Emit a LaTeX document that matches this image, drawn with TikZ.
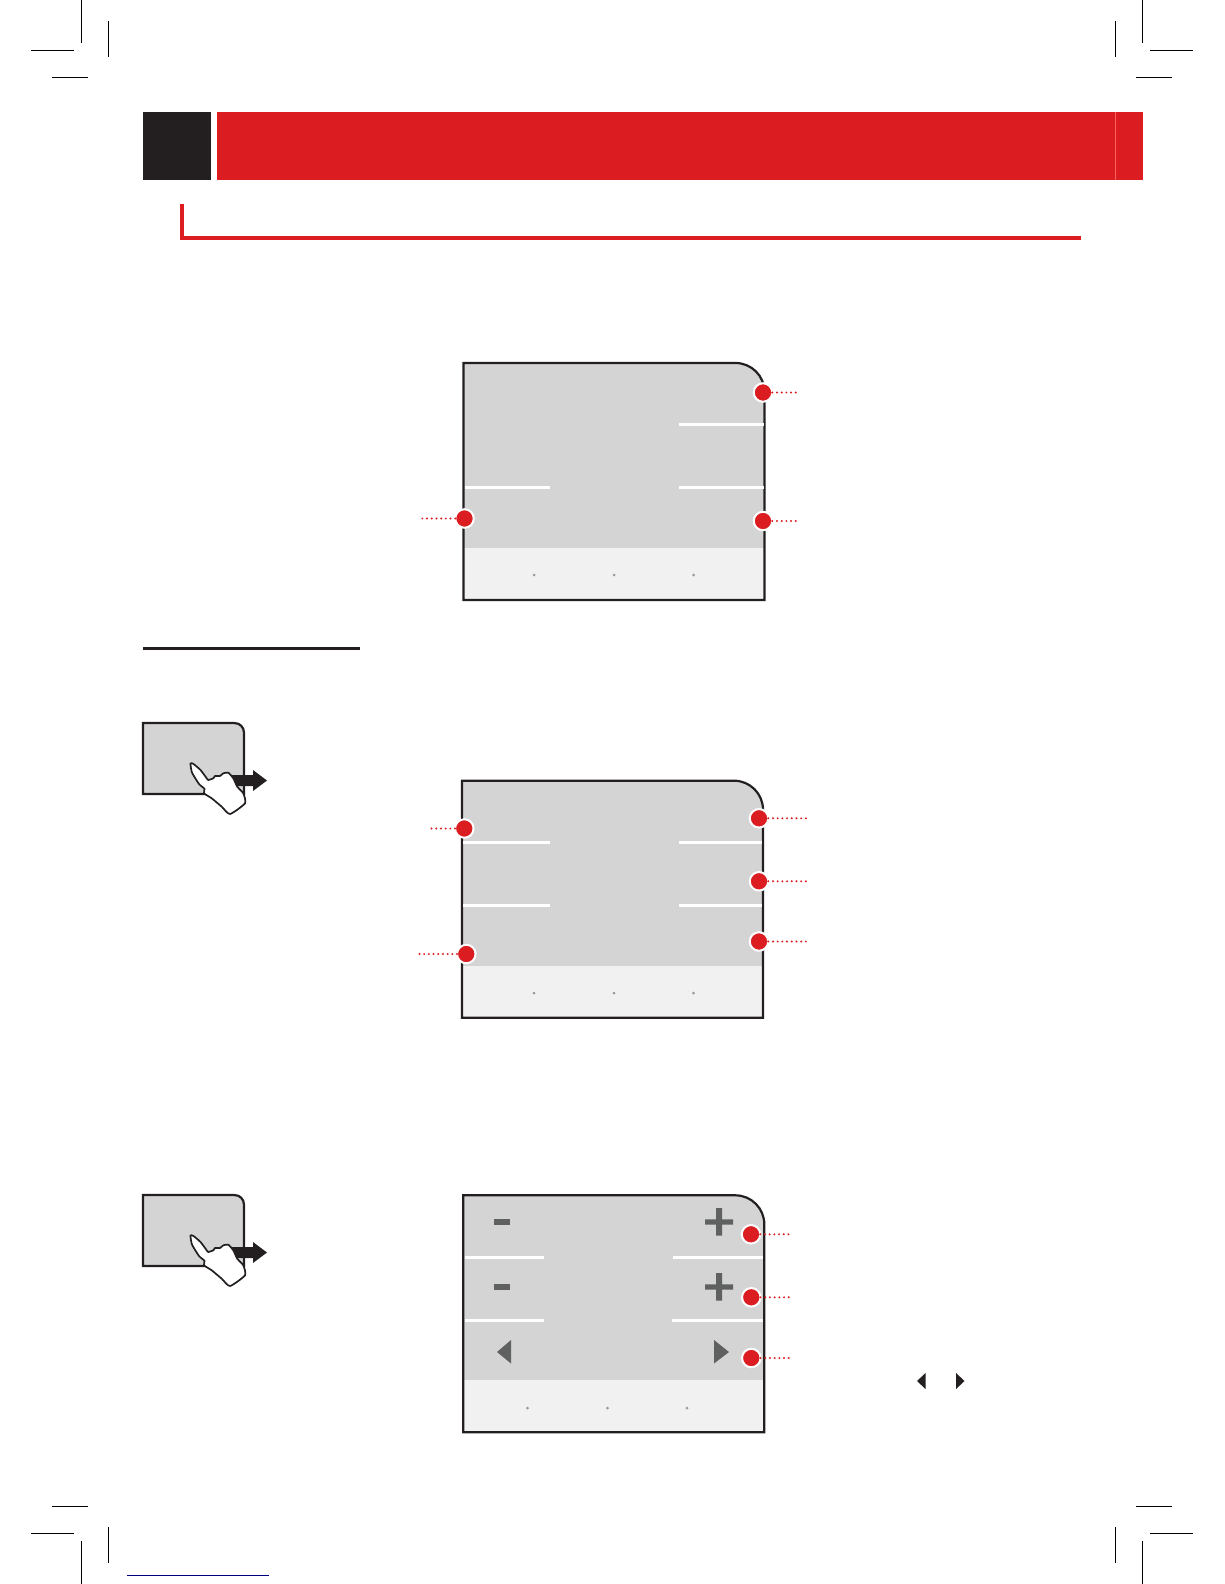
\documentclass[tikz,border=0pt]{standalone}
\definecolor{brandred}{HTML}{DB1C20}
\definecolor{inkblack}{HTML}{231F20}
\definecolor{screengrey}{HTML}{D4D4D4}
\definecolor{softgrey}{HTML}{F1F1F1}
\definecolor{symbolgrey}{HTML}{5F6060}
\tikzset{
  cropmark/.style={line width=0.9pt, black},
  bullet/.style={circle, fill=brandred, draw=white, line width=2pt, inner sep=0, outer sep=0, minimum size=18.5pt},
  callout/.style={brandred, line width=2.2pt, line cap=round, dash pattern=on 0pt off 4.7pt},
  divider/.style={white, line width=3pt},
  softdot/.style={circle, fill=black!40, inner sep=0, outer sep=0, minimum size=3pt},
  symbol/.style={fill=symbolgrey, draw=none},
  panelbody/.pic={
    \fill[screengrey] (0,0) -- (272,0) .. controls (288,0) and (301,13) .. (301,29) -- (301,237) -- (0,237) -- cycle;
    \fill[softgrey] (0,185) rectangle (301,237);
    \draw[inkblack, line width=2.2pt] (0,0) -- (272,0) .. controls (288,0) and (301,13) .. (301,29) -- (301,237) -- (0,237) -- cycle;
  },
  swipepanel/.pic={
    \fill[screengrey] (0,0) -- (91,0) .. controls (97,0) and (101,4) .. (101,10) -- (101,71) -- (0,71) -- cycle;
    \draw[inkblack, line width=2.2pt] (0,0) -- (91,0) .. controls (97,0) and (101,4) .. (101,10) -- (101,71) -- (0,71) -- cycle;
    \fill[inkblack] (88,52) -- (110,52) -- (110,47) -- (124,57.5) -- (110,68) -- (110,63) -- (88,63) -- cycle;
    \draw[fill=white, draw=inkblack, line width=1.7pt] plot[smooth cycle, tension=0.35] coordinates {(47.5,40.5) (50.5,41) (57.5,47) (63.5,55) (65.3,57) (70.3,55.3) (72,53) (77,53) (80.3,50.3) (85.3,49.7) (90.3,55.3) (94.3,63.7) (100.3,70.3) (102,80.3) (87,91) (78.7,83.7) (68.7,75.3) (61,70.3) (61.5,65.8) (56,61) (49,49.5)};
  }
}
\begin{document}
\begin{tikzpicture}[x=1pt, y=-1pt]
        \useasboundingbox (0,0) rectangle (1224,1584);

        \draw[cropmark] (81.5,0) -- (81.5,43) (31,50.5) -- (74,50.5) (108.5,21) -- (108.5,57) (52,77.5) -- (88,77.5);

        \draw[cropmark] (1142.5,0) -- (1142.5,43) (1150,50.5) -- (1193,50.5) (1115.5,21) -- (1115.5,57) (1136,77.5) -- (1172,77.5);

        \draw[cropmark] (81.5,1541) -- (81.5,1584) (31,1533) -- (74,1533) (108.5,1527) -- (108.5,1563) (52,1506.5) -- (88,1506.5);

        \draw[cropmark] (1142.5,1541) -- (1142.5,1584) (1150,1533) -- (1193,1533) (1115.5,1527) -- (1115.5,1563) (1136,1506.5) -- (1172,1506.5);

        \draw[blue!50!black, line width=1pt] (127,1575.3) -- (269,1575.3);

        \draw (143,112) node[anchor=north west, outer sep=0, inner sep=0, fill=inkblack, minimum width=68pt, minimum height=68pt] (chapter-box) {};

        \draw (chapter-box.north east) node[anchor=north west, xshift=6pt, outer sep=0, inner sep=0, fill=brandred, minimum width=926pt, minimum height=68pt] (chapter-band) {};

        \draw[red!60!white!90!brandred, line width=0.7pt] (1115.3,112) -- (1115.3,180);

        \draw[brandred, line width=4pt] (182,204) -- (182,238) -- (1081,238);

        \draw[inkblack, line width=3pt] (143,648) -- (360,648);

        \pic at (143,723) {swipepanel};

        \pic at (143,1195) {swipepanel};

        \pic at (463.5,363) {panelbody};

        \draw[divider] (679,424.5) -- (763.5,424.5);

        \draw[divider] (464.5,487) -- (550,487);

        \draw[divider] (679,487) -- (763.5,487);

        \draw (534,575) node[softdot] (first-dot-a) {};

        \draw (first-dot-a.center) node[softdot, xshift=80pt] (first-dot-b) {};

        \draw (first-dot-b.center) node[softdot, xshift=79.5pt] (first-dot-c) {};

        \draw (763,392.5) node[bullet] (first-top) {};

        \coordinate (first-top-end) at (798,392.5);

        \draw[callout] (first-top) -- (first-top-end);

        \draw (464.5,518.5) node[bullet] (first-left) {};

        \coordinate (first-left-end) at (421,518.5);

        \draw[callout] (first-left) -- (first-left-end);

        \draw (763,521) node[bullet] (first-right) {};

        \coordinate (first-right-end) at (798,521);

        \draw[callout] (first-right) -- (first-right-end);

        \pic at (462,780.7) {panelbody};

        \draw[divider] (463,842.3) -- (550,842.3);

        \draw[divider] (679,842.3) -- (762,842.3);

        \draw[divider] (463,905.7) -- (550,905.7);

        \draw[divider] (679,905.7) -- (762,905.7);

        \draw (534,993) node[softdot] (second-dot-a) {};

        \draw (second-dot-a.center) node[softdot, xshift=80pt] (second-dot-b) {};

        \draw (second-dot-b.center) node[softdot, xshift=79.5pt] (second-dot-c) {};

        \draw (464.3,828.5) node[bullet] (second-left-a) {};

        \coordinate (second-left-a-end) at (428,828.5);

        \draw[callout] (second-left-a) -- (second-left-a-end);

        \draw (466.3,954) node[bullet] (second-left-b) {};

        \coordinate (second-left-b-end) at (419,954);

        \draw[callout] (second-left-b) -- (second-left-b-end);

        \draw (759,818.3) node[bullet] (second-right-a) {};

        \coordinate (second-right-a-end) at (807,818.3);

        \draw[callout] (second-right-a) -- (second-right-a-end);

        \draw (759,881.3) node[bullet] (second-right-b) {};

        \coordinate (second-right-b-end) at (807,881.3);

        \draw[callout] (second-right-b) -- (second-right-b-end);

        \draw (759,941.5) node[bullet] (second-right-c) {};

        \coordinate (second-right-c-end) at (807,941.5);

        \draw[callout] (second-right-c) -- (second-right-c-end);

        \pic at (463.3,1195.3) {panelbody};

        \draw[divider] (464.5,1257.3) -- (544,1257.3);

        \draw[divider] (673,1257.3) -- (763,1257.3);

        \draw[divider] (464.5,1320.3) -- (544,1320.3);

        \draw[divider] (672,1320.3) -- (763,1320.3);

        \draw (527.5,1408) node[softdot] (third-dot-a) {};

        \draw (third-dot-a.center) node[softdot, xshift=80pt] (third-dot-b) {};

        \draw (third-dot-b.center) node[softdot, xshift=79.5pt] (third-dot-c) {};

        \fill[symbol] (494,1218.8) rectangle (510,1225.2);

        \fill[symbol] (494,1284.2) rectangle (510,1290.2);

        \fill[symbol] (705,1219.3) rectangle (733,1224.7) (716,1208) rectangle (722,1235.5);

        \fill[symbol] (705,1284.3) rectangle (733,1289.7) (716,1273) rectangle (722,1300.5);

        \fill[symbol] (497,1352) -- (511,1340) -- (511,1363.5) -- cycle;

        \fill[symbol] (729,1352) -- (714,1340) -- (714,1363.5) -- cycle;

        \fill[inkblack] (917,1381) -- (925.5,1373) -- (925.5,1389) -- cycle;

        \fill[inkblack] (964.5,1381) -- (956,1373) -- (956,1389) -- cycle;

        \draw (751,1234.3) node[bullet] (third-right-a) {};

        \coordinate (third-right-a-end) at (789,1234.3);

        \draw[callout] (third-right-a) -- (third-right-a-end);

        \draw (751.3,1297.3) node[bullet] (third-right-b) {};

        \coordinate (third-right-b-end) at (790,1297.3);

        \draw[callout] (third-right-b) -- (third-right-b-end);

        \draw (751.3,1358) node[bullet] (third-right-c) {};

        \coordinate (third-right-c-end) at (790,1358);

        \draw[callout] (third-right-c) -- (third-right-c-end);
      \end{tikzpicture}
\end{document}
